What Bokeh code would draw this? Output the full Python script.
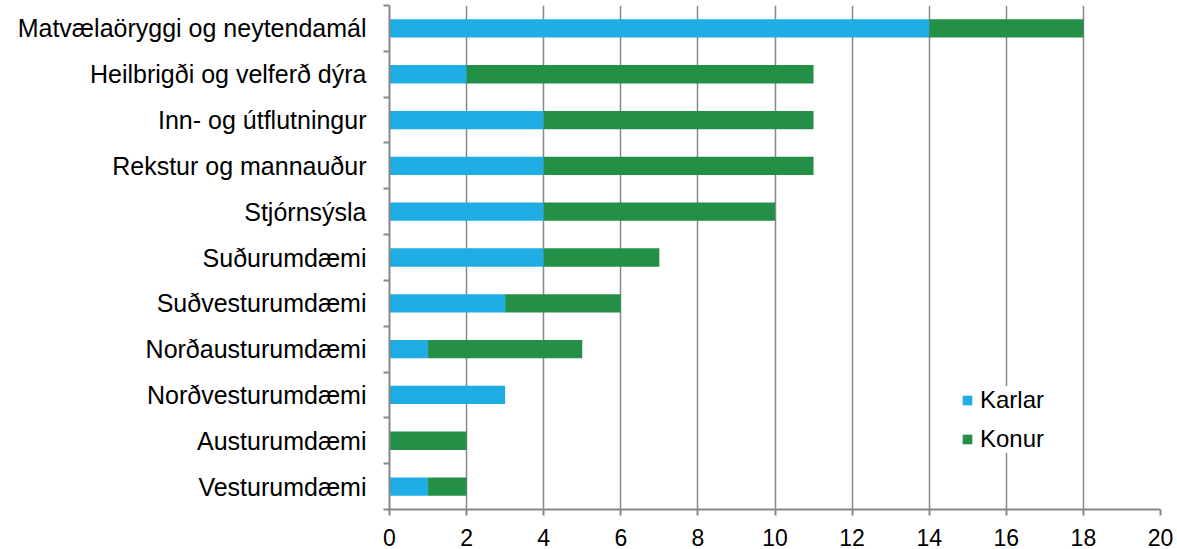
from bokeh.plotting import figure
from bokeh.models import ColumnDataSource, Range1d, FixedTicker, LinearAxis
from bokeh.embed import file_html
from bokeh.resources import INLINE

# ---- data (top to bottom as shown) ----
categories = [
    "Matvælaöryggi og neytendamál",
    "Heilbrigði og velferð dýra",
    "Inn- og útflutningur",
    "Rekstur og mannauður",
    "Stjórnsýsla",
    "Suðurumdæmi",
    "Suðvesturumdæmi",
    "Norðausturumdæmi",
    "Norðvesturumdæmi",
    "Austurumdæmi",
    "Vesturumdæmi",
]
karlar = [14, 2, 4, 4, 4, 4, 3, 1, 3, 0, 1]
konur = [4, 9, 7, 7, 6, 3, 3, 4, 0, 2, 1]
series_names = ["Karlar", "Konur"]
x_ticks = [0, 2, 4, 6, 8, 10, 12, 14, 16, 18, 20]

# ---- styles ----
BLUE = "#1FADE4"
GREEN = "#248F47"
GRAY = "#878787"
FONT = "Liberation Sans"

n = len(categories)
ypos = [n - 0.5 - i for i in range(n)]

source = ColumnDataSource(dict(y=ypos, cat=categories, Karlar=karlar, Konur=konur))

p = figure(
    width=1177, height=549,
    output_backend="svg", toolbar_location=None,
    x_range=Range1d(0, 20), y_range=Range1d(0, n),
    x_axis_location="below", y_axis_type=None,
    min_border_left=389, min_border_right=17, min_border_top=5, min_border_bottom=40,
)
p.outline_line_color = None
p.background_fill_color = "white"
p.border_fill_color = "white"

p.hbar_stack(series_names, y="y", height=0.4, color=[BLUE, GREEN], source=source,
             legend_label=series_names, line_color=None)

# x axis
xa = p.xaxis[0]
xa.ticker = FixedTicker(ticks=x_ticks)
xa.axis_line_color = GRAY
xa.axis_line_width = 2
xa.major_tick_line_color = GRAY
xa.major_tick_line_width = 2
xa.major_tick_out = 6
xa.major_tick_in = 0
xa.minor_tick_line_color = None
xa.major_label_text_font = FONT
xa.major_label_text_font_size = "23px"
xa.major_label_text_color = "black"
xa.major_label_standoff = 13

# y axis with category labels and boundary ticks
ya = LinearAxis(
    ticker=FixedTicker(ticks=ypos, minor_ticks=list(range(0, n + 1))),
    major_label_overrides={y: c for y, c in zip(ypos, categories)},
)
ya.axis_line_color = GRAY
ya.axis_line_width = 2
ya.major_tick_line_color = None
ya.major_tick_out = 0
ya.major_tick_in = 0
ya.minor_tick_line_color = GRAY
ya.minor_tick_line_width = 2
ya.minor_tick_out = 6
ya.minor_tick_in = 0
ya.major_label_text_font = FONT
ya.major_label_text_font_size = "25px"
ya.major_label_text_color = "black"
ya.major_label_standoff = 17
p.add_layout(ya, "left")

# grid
p.ygrid.grid_line_color = None
p.xgrid.ticker = FixedTicker(ticks=x_ticks)
p.xgrid.grid_line_color = GRAY
p.xgrid.grid_line_width = 1.5

# legend
lg = p.legend[0]
lg.location = (572, 56)
lg.orientation = "vertical"
lg.glyph_width = 12
lg.glyph_height = 12
lg.label_standoff = 7
lg.label_text_font = FONT
lg.label_text_font_size = "24px"
lg.label_text_color = "black"
lg.spacing = 11
lg.padding = 8
lg.margin = 0
lg.border_line_color = None
lg.background_fill_color = "white"
lg.background_fill_alpha = 1.0

open("out.html", "w").write(file_html(p, INLINE))
